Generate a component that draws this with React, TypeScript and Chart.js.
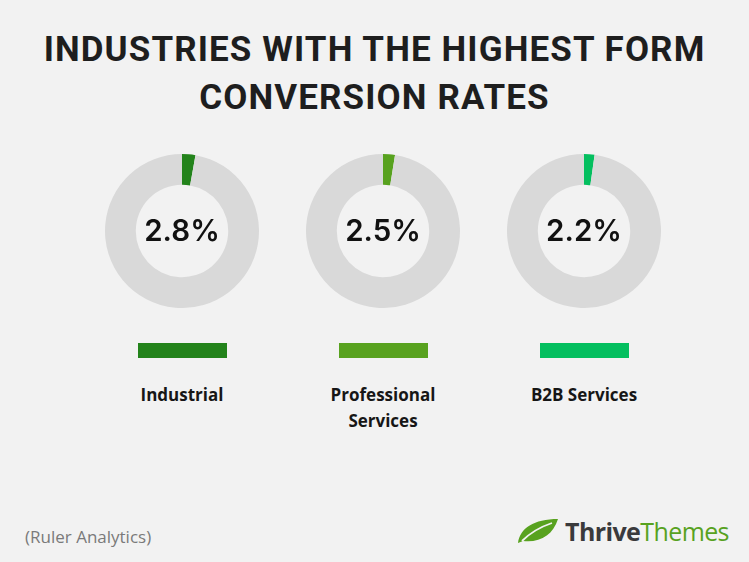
import React, { useEffect, useRef } from "react";
import { Chart, registerables } from "chart.js";

Chart.register(...registerables);

// Form conversion rates by industry (percent)
const industries = ["Industrial", "Professional Services", "B2B Services"];
const labelLines = [["Industrial"], ["Professional", "Services"], ["B2B Services"]];
const rates = [2.8, 2.5, 2.2];
const sliceColors = ["#23831b", "#58a21f", "#04bf5f"];
const restColor = "#d9d9d9";
const bg = "#f2f2f2";

const W = 749;
const H = 562;
const centersX = [182, 383, 584];
const centerY = 231;
const R = 77;

const centerTextPlugin = {
  id: "centerText",
  afterDatasetsDraw(chart: any) {
    const meta = chart.getDatasetMeta(0);
    const arc = meta.data[0];
    if (!arc) return;
    const { x, y } = arc.getProps(["x", "y"], true);
    const v = chart.data.datasets[0].data[0];
    const ctx = chart.ctx;
    ctx.save();
    ctx.fillStyle = "#111111";
    ctx.font = "600 29.5px Inter, Roboto, sans-serif";
    ctx.textAlign = "center";
    ctx.textBaseline = "middle";
    ctx.fillText(`${v.toFixed(1)}%`, x, y + 1);
    ctx.restore();
  },
};

function Donut({ value, color }: { value: number; color: string }) {
  const ref = useRef<HTMLCanvasElement>(null);
  useEffect(() => {
    const chart = new Chart(ref.current!, {
      type: "doughnut",
      data: {
        labels: ["rate", "rest"],
        datasets: [
          {
            data: [value, 100 - value],
            backgroundColor: [color, restColor],
            borderWidth: 0,
          },
        ],
      },
      options: {
        animation: false,
        responsive: false,
        maintainAspectRatio: false,
        cutout: "60%",
        layout: { padding: 0 },
        plugins: { legend: { display: false }, tooltip: { enabled: false } },
      },
      plugins: [centerTextPlugin],
    });
    return () => chart.destroy();
  }, [value, color]);
  return <canvas ref={ref} width={R * 2} height={R * 2} style={{ width: R * 2, height: R * 2 }} />;
}

export default function App() {
  return (
    <div
      style={{
        position: "fixed",
        left: 0,
        top: 0,
        width: W,
        height: H,
        background: bg,
        overflow: "hidden",
        fontFamily: "Roboto, sans-serif",
      }}
    >
      <div
        style={{
          position: "absolute",
          left: 0,
          top: 26,
          width: W,
          textAlign: "center",
          fontFamily: "Roboto, sans-serif",
          fontWeight: 700,
          fontSize: 35,
          letterSpacing: 1.1,
          lineHeight: "48px",
          color: "#1e1e1e",
        }}
      >
        INDUSTRIES WITH THE HIGHEST FORM
        <br />
        CONVERSION RATES
      </div>

      {industries.map((name, i) => (
        <React.Fragment key={name}>
          <div style={{ position: "absolute", left: centersX[i] - R, top: centerY - R }}>
            <Donut value={rates[i]} color={sliceColors[i]} />
          </div>
          <div
            style={{
              position: "absolute",
              left: centersX[i] - 44.5,
              top: 343,
              width: 89,
              height: 15,
              background: sliceColors[i],
            }}
          />
          <div
            style={{
              position: "absolute",
              left: centersX[i] - 100,
              top: 382,
              width: 200,
              textAlign: "center",
              fontFamily: "'Open Sans', sans-serif",
              fontWeight: 700,
              fontSize: 17,
              lineHeight: "26px",
              color: "#161616",
            }}
          >
            {labelLines[i].map((l) => (
              <div key={l}>{l}</div>
            ))}
          </div>
        </React.Fragment>
      ))}

      <div
        style={{
          position: "absolute",
          left: 25,
          top: 525,
          fontFamily: "'Open Sans', sans-serif",
          fontSize: 17,
          color: "#7a7a7a",
        }}
      >
        (Ruler Analytics)
      </div>

      <svg style={{ position: "absolute", left: 516, top: 517 }} width={44} height={28} viewBox="0 0 44 28">
        <path d="M2 26 C4 11 18 2 42 2 C37 18 24 26 7 24 Z" fill="#58a21f" />
        <path d="M6 24 C14 16 24 10 36 6" stroke="#f2f2f2" strokeWidth={1.8} fill="none" />
      </svg>
      <div
        style={{
          position: "absolute",
          left: 565,
          top: 513,
          fontFamily: "'Open Sans', sans-serif",
          fontSize: 25,
          letterSpacing: -0.6,
          lineHeight: "36px",
        }}
      >
        <span style={{ color: "#3a3a3c", fontWeight: 700 }}>Thrive</span>
        <span style={{ color: "#58a21f", fontWeight: 400 }}>Themes</span>
      </div>
    </div>
  );
}
